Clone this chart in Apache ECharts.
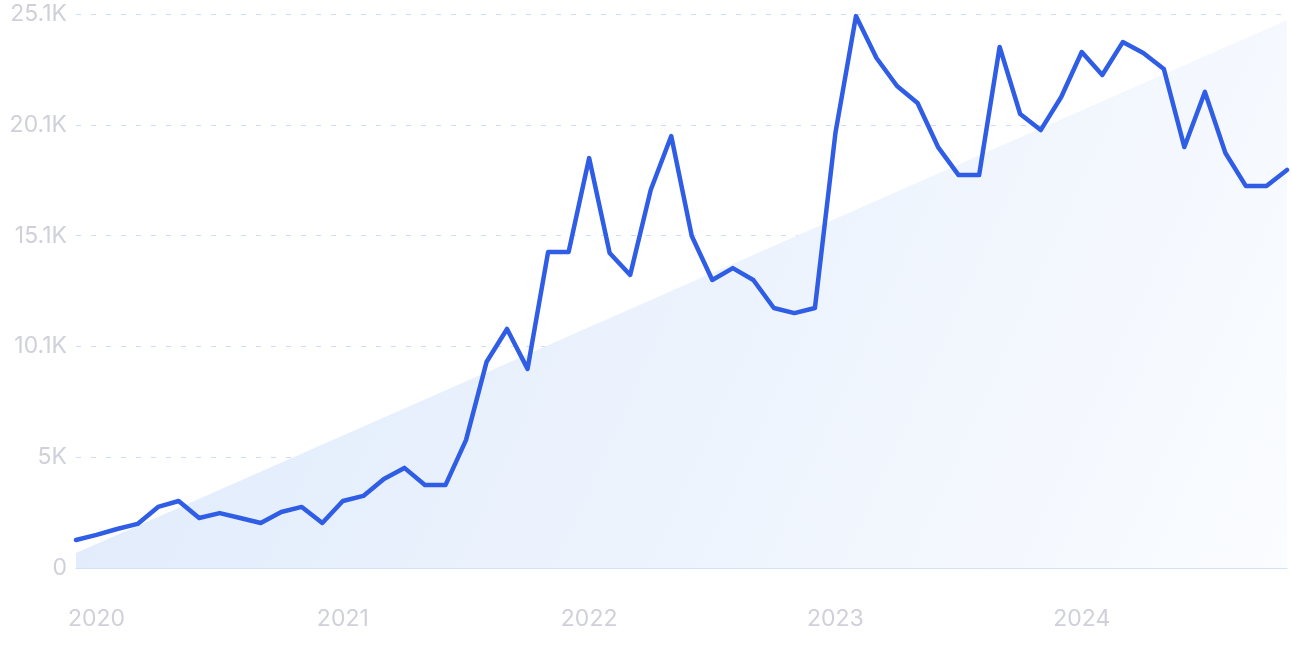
<!DOCTYPE html>
<html>
<head>
<meta charset="utf-8">
<script src="https://cdn.jsdelivr.net/npm/echarts@6/dist/echarts.min.js"></script>
<style>
html,body{margin:0;padding:0;background:#fff;}
#chart{width:1292px;height:646px;}
</style>
</head>
<body>
<div id="chart"></div>
<script>
// Monthly categories Dec 2019 .. Nov 2024
const categories = [
  "2019-12",
  "2020-01","2020-02","2020-03","2020-04","2020-05","2020-06","2020-07","2020-08","2020-09","2020-10","2020-11","2020-12",
  "2021-01","2021-02","2021-03","2021-04","2021-05","2021-06","2021-07","2021-08","2021-09","2021-10","2021-11","2021-12",
  "2022-01","2022-02","2022-03","2022-04","2022-05","2022-06","2022-07","2022-08","2022-09","2022-10","2022-11","2022-12",
  "2023-01","2023-02","2023-03","2023-04","2023-05","2023-06","2023-07","2023-08","2023-09","2023-10","2023-11","2023-12",
  "2024-01","2024-02","2024-03","2024-04","2024-05","2024-06","2024-07","2024-08","2024-09","2024-10","2024-11"
];
const searches = [
  1270,
  1500,1770,2000,2770,3040,2270,2490,2270,2040,2540,2770,2040,
  3040,3270,4040,4540,3760,3760,5800,9340,10840,9030,14330,14330,
  18590,14290,13290,17140,19590,15060,13060,13600,13060,11790,11560,11790,
  19730,25030,23130,21860,21090,19090,17820,17820,23630,20590,19860,21360,
  23400,22360,23850,23360,22630,19090,21590,18820,17320,17320,18050
];
// Trend line: start and end values only
const trendStart = 680;
const trendEnd = 24850;
const yMax = 25125;
const yInterval = 5025;

const trend = categories.map((c, i) => i === 0 ? trendStart : (i === categories.length - 1 ? trendEnd : null));

function fmtY(v) {
  if (v === 0) return '0';
  let s = (v / 1000).toFixed(1);
  if (s.endsWith('.0')) s = s.slice(0, -2);
  return s + 'K';
}

const chart = echarts.init(document.getElementById('chart'), null, {renderer: 'canvas'});
chart.setOption({
  animation: false,
  grid: {left: 76, right: 5, top: 14, bottom: 78, containLabel: false},
  xAxis: {
    type: 'category',
    data: categories,
    boundaryGap: false,
    axisLine: {show: true, lineStyle: {color: '#d3e2fa', width: 1}},
    axisTick: {show: false},
    axisLabel: {
      interval: (i, v) => v.endsWith('-01'),
      formatter: v => v.slice(0, 4),
      color: '#cfd0da',
      fontSize: 23,
      fontFamily: 'Inter, "Noto Sans", sans-serif',
      margin: 40
    },
    splitLine: {show: false}
  },
  yAxis: {
    type: 'value',
    min: 0,
    max: yMax,
    interval: yInterval,
    axisLine: {show: false},
    axisTick: {show: false},
    axisLabel: {
      formatter: fmtY,
      color: '#cfd0da',
      fontSize: 23,
      fontFamily: 'Inter, "Noto Sans", sans-serif',
      margin: 9
    },
    splitLine: {show: true, lineStyle: {color: '#cddcf8', type: [5, 10], width: 1}}
  },
  series: [
    {
      type: 'line',
      data: trend,
      connectNulls: true,
      symbol: 'none',
      lineStyle: {width: 0, opacity: 0},
      areaStyle: {
        opacity: 1,
        color: new echarts.graphic.LinearGradient(0, 0, 1, 1, [
          {offset: 0, color: '#dde9fb'},
          {offset: 1, color: '#fafcff'}
        ])
      },
      z: 1,
      silent: true
    },
    {
      type: 'line',
      data: searches,
      symbol: 'none',
      lineStyle: {color: '#2f5de5', width: 4.5, join: 'round', cap: 'round'},
      z: 3
    }
  ]
});
</script>
</body>
</html>
